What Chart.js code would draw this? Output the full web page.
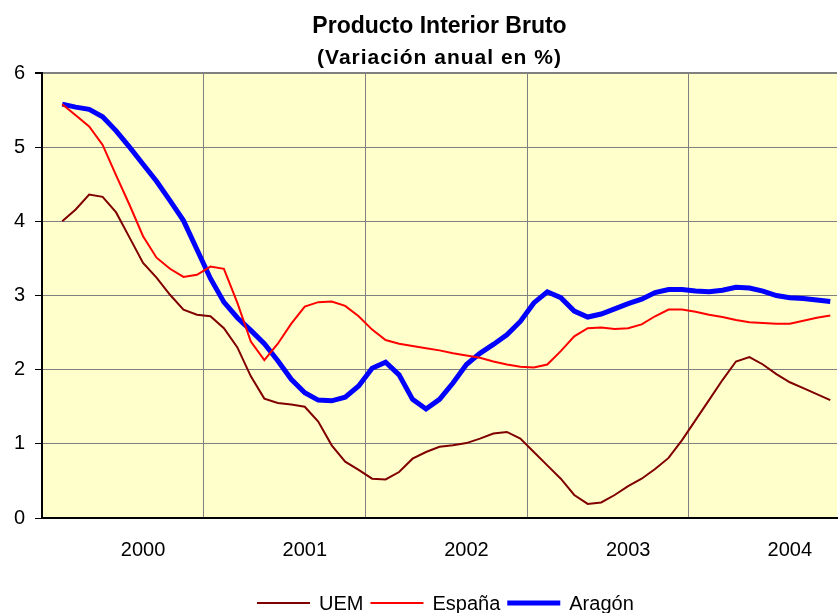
<!DOCTYPE html>
<html>
<head>
<meta charset="utf-8">
<script src="https://cdn.jsdelivr.net/npm/chart.js@4"></script>
<style>
  html, body { margin: 0; padding: 0; background: #fff; overflow: hidden; }
  #wrap { width: 839px; height: 613px; }
  canvas { display: block; }
</style>
</head>
<body>
<div id="wrap"><canvas id="myChart" width="839" height="613"></canvas></div>
<script>
const yearLabels = ['2000', '2001', '2002', '2003', '2004'];
// monthly slots, the year label sits in the middle of each year
const categories = [];
for (let i = 0; i < 59; i++) {
	categories.push(i % 12 === 7 ? yearLabels[(i - 7) / 12] : '');
}

const uem = [null, 4.00, 4.16, 4.36, 4.33, 4.12, 3.78, 3.44, 3.24, 3.01, 2.81, 2.74, 2.72, 2.56, 2.30,
	1.91, 1.61, 1.55, 1.53, 1.50, 1.30, 0.98, 0.76, 0.65, 0.53, 0.52, 0.62, 0.80, 0.89, 0.96,
	0.98, 1.01, 1.07, 1.14, 1.16, 1.07, 0.89, 0.71, 0.53, 0.31, 0.19, 0.21, 0.31, 0.43,
	0.53, 0.66, 0.81, 1.05, 1.32, 1.59, 1.86, 2.11, 2.17, 2.07, 1.94, 1.83, 1.75, 1.67, 1.59];

const espana = [null, 5.58, 5.43, 5.28, 5.03, 4.62, 4.22, 3.80, 3.51, 3.36, 3.25, 3.28, 3.39, 3.36, 2.90,
	2.38, 2.13, 2.35, 2.62, 2.85, 2.91, 2.92, 2.86, 2.72, 2.54, 2.40, 2.35, 2.32, 2.29, 2.26,
	2.22, 2.19, 2.16, 2.11, 2.07, 2.04, 2.03, 2.07, 2.25, 2.45, 2.56, 2.57, 2.55, 2.56,
	2.61, 2.72, 2.81, 2.81, 2.78, 2.74, 2.71, 2.67, 2.64, 2.63, 2.62, 2.62, 2.66, 2.70, 2.73];

const aragon = [null, 5.58, 5.54, 5.51, 5.41, 5.22, 5.00, 4.77, 4.54, 4.28, 4.01, 3.62, 3.23, 2.91, 2.70,
	2.53, 2.35, 2.12, 1.87, 1.69, 1.59, 1.58, 1.63, 1.78, 2.02, 2.10, 1.93, 1.60, 1.47, 1.60,
	1.82, 2.07, 2.22, 2.34, 2.47, 2.65, 2.90, 3.05, 2.97, 2.79, 2.71, 2.75, 2.82, 2.89,
	2.95, 3.04, 3.08, 3.08, 3.06, 3.05, 3.07, 3.11, 3.10, 3.06, 3.00, 2.97, 2.96, 2.94, 2.92];

const FONT = "'Liberation Sans', Arial, sans-serif";

// plot background + titles + legend
const decor = {
	id: 'decor',
	beforeDraw(chart) {
		const { ctx, chartArea: a } = chart;
		ctx.save();
		ctx.fillStyle = '#FFFFCC';
		ctx.fillRect(a.left, a.top, a.right - a.left, a.bottom - a.top);
		ctx.restore();
	},
	afterDraw(chart) {
		const { ctx, chartArea: a } = chart;
		const cx = (a.left + a.right) / 2;
		ctx.save();
		ctx.fillStyle = '#000';
		ctx.textAlign = 'center';
		ctx.textBaseline = 'alphabetic';
		ctx.font = 'bold 23px ' + FONT;
		ctx.fillText('Producto Interior Bruto', cx, 33);
		ctx.font = 'bold 21px ' + FONT;
		ctx.letterSpacing = '1px';
		ctx.fillText('(Variación anual en %)', cx, 64);
		ctx.letterSpacing = '0px';

		// legend
		ctx.font = '20px ' + FONT;
		ctx.textAlign = 'left';
		let x = 257;
		const ly = 603;
		chart.data.datasets.forEach(ds => {
			ctx.strokeStyle = ds.borderColor;
			ctx.lineWidth = ds.borderWidth;
			ctx.beginPath();
			ctx.moveTo(x, ly);
			ctx.lineTo(x + 53, ly);
			ctx.stroke();
			x += 53 + 9;
			ctx.fillStyle = '#000';
			ctx.fillText(ds.label, x, 610);
			x += ctx.measureText(ds.label).width + 7;
		});
		ctx.restore();
	}
};

const data = {
	labels: categories,
	datasets: [
		{ label: 'UEM', data: uem, borderColor: '#800000', borderWidth: 2, pointRadius: 0, tension: 0 },
		{ label: 'España', data: espana, borderColor: '#FF0000', borderWidth: 2, pointRadius: 0, tension: 0 },
		{ label: 'Aragón', data: aragon, borderColor: '#0000FF', borderWidth: 5, pointRadius: 0, tension: 0 }
	]
};

const config = {
	type: 'line',
	data,
	options: {
		responsive: false,
		animation: false,
		layout: { padding: { top: 73, right: 2, left: 0, bottom: 0 } },
		plugins: {
			legend: { display: false },
			title: { display: false },
			tooltip: { enabled: false }
		},
		scales: {
			x: {
				type: 'category',
				offset: true,
				afterFit(scale) { scale.height = 95; },
				grid: {
					offset: true,
					drawTicks: true,
					tickLength: 20,
					tickColor: 'rgba(0,0,0,0)',
					color: ctx => (ctx.index > 0 && ctx.index < 59 && ctx.index % 12 === 0) ? '#808080' : 'rgba(0,0,0,0)',
					lineWidth: 1
				},
				border: { color: '#000', width: 2 },
				ticks: {
					autoSkip: false,
					maxRotation: 0,
					minRotation: 0,
					padding: 0,
					color: '#000',
					font: { family: FONT, size: 20 }
				}
			},
			y: {
				min: 0,
				max: 6,
				afterFit(scale) { scale.width = 42; },
				grid: {
					color: ctx => ctx.tick && ctx.tick.value === 0 ? 'rgba(0,0,0,0)' : '#808080',
					lineWidth: ctx => ctx.tick && ctx.tick.value === 6 ? 2 : 1,
					tickColor: '#000',
					tickLength: 7
				},
				border: { color: '#000', width: 2 },
				ticks: {
					stepSize: 1,
					padding: 10,
					color: '#000',
					font: { family: FONT, size: 20 }
				}
			}
		}
	},
	plugins: [decor]
};

const myChart = new Chart(document.getElementById('myChart'), config);
</script>
</body>
</html>
